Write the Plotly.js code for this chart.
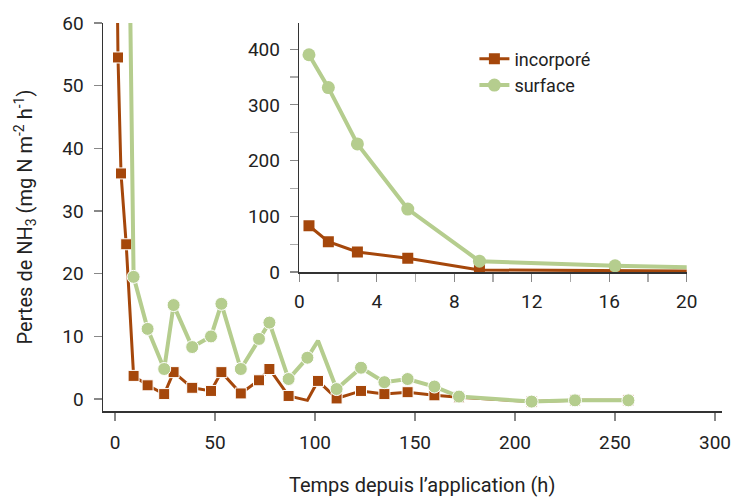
<!DOCTYPE html>
<html>
<head>
<meta charset="utf-8">
<script src="https://cdn.plot.ly/plotly-3.0.1.min.js"></script>
<style>html,body{margin:0;padding:0;background:#fff;}#chart{width:741px;height:497px;}</style>
</head>
<body>
<div id="chart"></div>
<script>
// Time since application (h)
const timeH = [0.5, 1.5, 3, 5.6, 9.3, 16.3, 24.6, 29.3, 38.6, 48, 53.2, 62.9, 72, 77.2, 86.8, 96.2, 101.5, 110.8, 123, 134.7, 146.3, 159.7, 172, 208.3, 230, 256.7];
// NH3 losses (mg N m-2 h-1)
const incorpore = [83, 54.5, 36, 24.7, 3.7, 2.2, 0.8, 4.3, 1.8, 1.3, 4.3, 0.9, 3.0, 4.8, 0.5, -0.2, 2.9, 0.1, 1.3, 0.8, 1.1, 0.6, 0.3, -0.4, -0.2, -0.2];
const surface   = [390, 331, 230, 113, 19.5, 11.2, 4.8, 15.0, 8.3, 10.0, 15.2, 4.8, 9.6, 12.2, 3.2, 6.6, 9.3, 1.6, 5.0, 2.7, 3.2, 2.0, 0.4, -0.4, -0.2, -0.2];
const seriesNames = ['incorporé', 'surface'];
const mainXTicks = [0, 50, 100, 150, 200, 250, 300];
const mainYTicks = [0, 10, 20, 30, 40, 50, 60];
const xTitle = 'Temps depuis l’application (h)';
const yTitle = 'Pertes de NH<sub>3</sub> (mg N m<sup>-2</sup> h<sup>-1</sup>)';

const BROWN = '#A5470B';
const GREEN = '#B5CD8E';
const FONT = 'Roboto';

// points whose marker is not drawn in the original (line vertex only)
const incSizes = timeH.map((t, i) => (i === 15 ? 0 : 11));
const surfSizes = timeH.map((t, i) => (i === 16 ? 0 : 13));

function mk(y, name, color, lw, sym, sizes, xa, ya, show) {
  return {
    x: timeH, y: y, name: name, type: 'scatter', mode: 'lines+markers',
    xaxis: xa, yaxis: ya, showlegend: show, legendgroup: name,
    line: {color: color, width: lw},
    marker: {symbol: sym, size: sizes, color: color, opacity: 1}
  };
}

const traces = [
  mk(incorpore, seriesNames[0], BROWN, 3, 'square', incSizes, 'x', 'y', false),
  mk(surface, seriesNames[1], GREEN, 4, 'circle', surfSizes, 'x', 'y', false),
  mk(incorpore, seriesNames[0], BROWN, 3, 'square', 11, 'x2', 'y2', true),
  mk(surface, seriesNames[1], GREEN, 4, 'circle', 13, 'x2', 'y2', true)
];

const axisCommon = {
  showgrid: false, zeroline: false, showline: true, linecolor: '#333', linewidth: 1.5,
  ticks: 'outside', ticklen: 8, tickwidth: 1.2, tickcolor: '#888',
  tickfont: {family: FONT, size: 19, color: '#222'}
};

const layout = {
  width: 741, height: 497,
  margin: {l: 103, r: 19, t: 23, b: 86},
  paper_bgcolor: '#fff', plot_bgcolor: 'rgba(0,0,0,0)',
  font: {family: FONT, color: '#222'},
  showlegend: true,
  legend: {
    x: 0.6, y: 0.955, xanchor: 'left', yanchor: 'top',
    bgcolor: 'rgba(0,0,0,0)', font: {family: FONT, size: 18, color: '#222'},
    tracegroupgap: 0
  },
  annotations: [{
    text: xTitle, xref: 'paper', yref: 'paper', x: 0.515, y: -0.191,
    xanchor: 'center', yanchor: 'middle', showarrow: false,
    font: {family: FONT, size: 20, color: '#222'}
  }],
  xaxis: Object.assign({}, axisCommon, {
    domain: [0, 1], range: [-6, 303.5], tickvals: mainXTicks, ticklabelstandoff: 6
  }),
  yaxis: Object.assign({}, axisCommon, {
    domain: [0, 1], range: [-1.9, 60], tickvals: mainYTicks, ticklabelstandoff: 6,
    title: {text: yTitle, font: {family: FONT, size: 20, color: '#222'}, standoff: 24}
  }),
  xaxis2: Object.assign({}, axisCommon, {
    domain: [0.3171, 0.943], range: [0, 20], anchor: 'y2', dtick: 4, tick0: 0,
    minor: {dtick: 2, ticks: 'outside', ticklen: 8, tickcolor: '#aaa', tickwidth: 1.2},
    ticklabelstandoff: 4
  }),
  yaxis2: Object.assign({}, axisCommon, {
    domain: [0.3582, 1], range: [0, 447], anchor: 'x2', dtick: 100, tick0: 0,
    minor: {dtick: 50, ticks: 'outside', ticklen: 8, tickcolor: '#aaa', tickwidth: 1.2},
    ticklabelstandoff: 6
  })
};

Plotly.newPlot('chart', traces, layout, {displayModeBar: false, staticPlot: true});
</script>
</body>
</html>
